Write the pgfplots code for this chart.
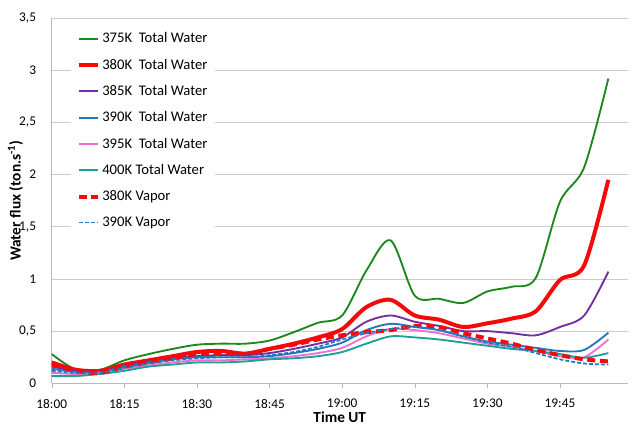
\documentclass[border=0pt]{standalone}
\usepackage{fontspec}
\setmainfont{Carlito}
\usepackage{pgfplots}
\pgfplotsset{compat=1.18}
\definecolor{cgreen}{RGB}{30,135,30}
\definecolor{cred}{RGB}{245,10,10}
\definecolor{cpurple}{RGB}{112,48,160}
\definecolor{cblue}{RGB}{35,120,185}
\definecolor{cpink}{RGB}{240,110,210}
\definecolor{cteal}{RGB}{30,160,150}
\definecolor{cbdash}{RGB}{30,120,200}
\begin{document}
\begin{tikzpicture}
\useasboundingbox (-38.8pt,-38.8pt) rectangle (435.2pt,287.5pt);
\begin{axis}[
  at={(0,0)}, anchor=south west,
  scale only axis, width=432pt, height=274pt,
  xmin=0, xmax=119, ymin=0, ymax=3.5,
  xtick={0,15,30,45,60,75,90,105},
  xticklabels={18:00,18:15,18:30,18:45,19:00,19:15,19:30,19:45},
  ytick={0,0.5,1,1.5,2,2.5,3,3.5},
  yticklabels={0,{0,5},1,{1,5},2,{2,5},3,{3,5}},
  axis x line*=bottom, axis y line*=left,
  axis line style={-, draw=black!28},
  tick align=outside,
  major tick length=3.75pt,
  xtick style={draw=black!28},
  ytick style={draw=none},
  ymajorgrids, grid style={draw=black!20, line width=0.6pt},
  tick label style={font=\fontsize{10}{12}\selectfont},
  xticklabel style={yshift=-4.5pt},
  yticklabel style={xshift=-4.5pt},
  xlabel={\textbf{Time UT}},
  ylabel={\textbf{Water flux (ton.s\textsuperscript{-1})}},
  label style={font=\fontsize{11.5}{13}\selectfont},
  xlabel style={at={(axis description cs:0.5,-0.094)}, anchor=center},
  ylabel style={at={(axis description cs:-0.063,0.5)}, anchor=center},
  legend cell align=left,
  legend style={at={(axis description cs:0.0335,0.979)}, anchor=north west,
    draw=none, fill=white, font=\fontsize{11}{13}\selectfont,
    row sep=6.6pt, inner xsep=4pt, inner ysep=3pt},
  legend image code/.code={\draw[#1] (0cm,0cm) -- (0.5cm,0cm);},
  every axis plot/.append style={smooth, tension=0.5},
]
\addplot[cgreen, line width=1.4pt] coordinates {
(0,0.28) (5,0.13) (10,0.13) (15,0.22) (20,0.28) (25,0.33) (30,0.37) (35,0.38)
(40,0.38) (45,0.41) (50,0.49) (55,0.58) (60,0.65) (65,1.08) (70,1.37) (75,0.84)
(80,0.81) (85,0.77) (90,0.88) (95,0.925) (100,1.01) (105,1.74) (110,2.07) (115,2.92)};
\addlegendentry{375K\ \ Total Water}
\addplot[cred, line width=3pt] coordinates {
(0,0.20) (5,0.13) (10,0.12) (15,0.18) (20,0.22) (25,0.26) (30,0.30) (35,0.31)
(40,0.285) (45,0.33) (50,0.38) (55,0.44) (60,0.52) (65,0.73) (70,0.80) (75,0.65)
(80,0.61) (85,0.54) (90,0.575) (95,0.62) (100,0.69) (105,0.99) (110,1.13) (115,1.95)};
\addlegendentry{380K\ \ Total Water}
\addplot[cpurple, line width=1.4pt] coordinates {
(0,0.16) (5,0.12) (10,0.11) (15,0.17) (20,0.21) (25,0.24) (30,0.26) (35,0.27)
(40,0.27) (45,0.29) (50,0.33) (55,0.38) (60,0.44) (65,0.59) (70,0.65) (75,0.59)
(80,0.55) (85,0.50) (90,0.50) (95,0.48) (100,0.46) (105,0.54) (110,0.65) (115,1.07)};
\addlegendentry{385K\ \ Total Water}
\addplot[cblue, line width=1.4pt] coordinates {
(0,0.14) (5,0.11) (10,0.11) (15,0.16) (20,0.20) (25,0.23) (30,0.25) (35,0.25)
(40,0.25) (45,0.26) (50,0.29) (55,0.33) (60,0.39) (65,0.51) (70,0.57) (75,0.54)
(80,0.51) (85,0.45) (90,0.40) (95,0.37) (100,0.34) (105,0.31) (110,0.32) (115,0.485)};
\addlegendentry{390K\ \ Total Water}
\addplot[cpink, line width=1.4pt] coordinates {
(0,0.10) (5,0.09) (10,0.10) (15,0.14) (20,0.17) (25,0.20) (30,0.22) (35,0.22)
(40,0.23) (45,0.24) (50,0.26) (55,0.29) (60,0.34) (65,0.45) (70,0.52) (75,0.51)
(80,0.48) (85,0.43) (90,0.38) (95,0.35) (100,0.31) (105,0.26) (110,0.25) (115,0.42)};
\addlegendentry{395K\ \ Total Water}
\addplot[cteal, line width=1.4pt] coordinates {
(0,0.07) (5,0.07) (10,0.09) (15,0.12) (20,0.16) (25,0.18) (30,0.20) (35,0.20)
(40,0.21) (45,0.23) (50,0.24) (55,0.26) (60,0.30) (65,0.38) (70,0.45) (75,0.44)
(80,0.42) (85,0.39) (90,0.36) (95,0.33) (100,0.31) (105,0.28) (110,0.245) (115,0.29)};
\addlegendentry{400K Total Water}
\addplot[cred, line width=3pt, dash pattern=on 6pt off 3.5pt] coordinates {
(0,0.18) (5,0.12) (10,0.10) (15,0.16) (20,0.20) (25,0.24) (30,0.28) (35,0.29)
(40,0.28) (45,0.33) (50,0.37) (55,0.42) (60,0.46) (65,0.49) (70,0.51) (75,0.55)
(80,0.54) (85,0.48) (90,0.43) (95,0.38) (100,0.32) (105,0.27) (110,0.23) (115,0.21)};
\addlegendentry{380K Vapor}
\addplot[cbdash, line width=1.3pt, dash pattern=on 3pt off 1.5pt] coordinates {
(0,0.12) (5,0.10) (10,0.10) (15,0.15) (20,0.19) (25,0.22) (30,0.24) (35,0.25)
(40,0.25) (45,0.27) (50,0.30) (55,0.35) (60,0.42) (65,0.48) (70,0.52) (75,0.54)
(80,0.51) (85,0.45) (90,0.39) (95,0.35) (100,0.29) (105,0.23) (110,0.19) (115,0.18)};
\addlegendentry{390K Vapor}
\end{axis}
\end{tikzpicture}
\end{document}
